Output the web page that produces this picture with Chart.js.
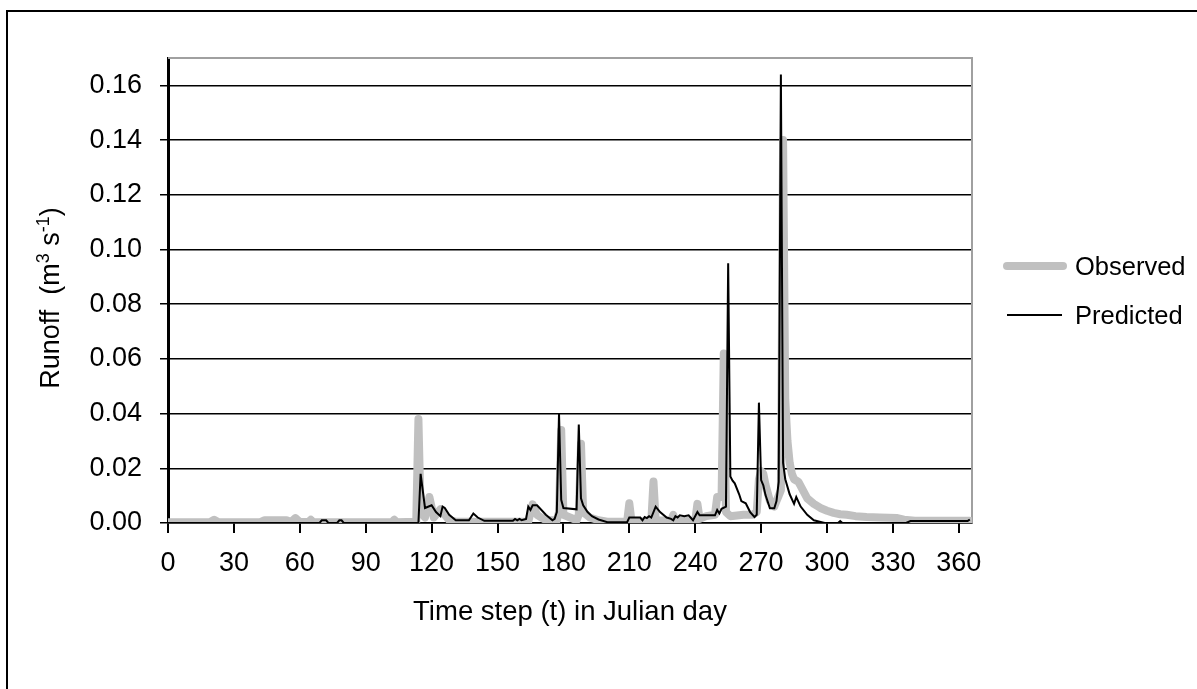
<!DOCTYPE html>
<html>
<head>
<meta charset="utf-8">
<script src="https://cdn.jsdelivr.net/npm/chart.js@4.4.1/dist/chart.umd.min.js"></script>
<style>
  html, body { margin: 0; padding: 0; background: #fff; }
  #wrap { width: 1197px; height: 689px; position: relative; }
</style>
</head>
<body>
<div id="wrap"><canvas id="myChart" width="1197" height="689"></canvas></div>
<script>
// daily runoff (m3/s) at the days where the curves change
const obsDays = [0, 19, 21, 23, 42, 44, 54, 56, 58, 60, 64, 65, 66, 102, 103, 104, 113, 114, 115, 117, 119, 121, 124, 126, 128, 131,
  164, 166, 168, 170, 172, 177, 178, 179, 180, 186, 187, 188, 189, 192, 196, 200, 209, 210, 211, 220, 221, 222, 229, 230, 231,
  240, 241, 242, 245, 249, 250, 252, 253, 254, 256, 262, 266, 268, 269, 270, 271, 272, 274, 276, 277, 278, 279, 280, 281, 282,
  283, 284, 285, 287, 289, 291, 294, 297, 300, 303, 306, 309, 313, 318, 324, 332, 335, 340, 365];
const obsRunoff = [0.0003, 0.0003, 0.0012, 0.0003, 0.0003, 0.001, 0.001, 0.0004, 0.0018, 0.0004, 0.0004, 0.0012, 0.0003, 0.0003, 0.0012, 0.0003, 0.0005, 0.038, 0.004, 0.002, 0.0095, 0.002, 0.005, 0.003, 0.001, 0.0005,
  0.0005, 0.0068, 0.003, 0.002, 0.001, 0.001, 0.004, 0.034, 0.003, 0.001, 0.003, 0.029, 0.004, 0.002, 0.001, 0.0005, 0.0005, 0.0072, 0.0006, 0.0006, 0.0152, 0.001, 0.0008, 0.003, 0.0008,
  0.0008, 0.007, 0.0015, 0.0025, 0.003, 0.0095, 0.0095, 0.062, 0.004, 0.0025, 0.003, 0.003, 0.004, 0.016, 0.019, 0.018, 0.014, 0.008, 0.006, 0.008, 0.01, 0.012, 0.14, 0.045, 0.03,
  0.022, 0.018, 0.016, 0.015, 0.012, 0.009, 0.007, 0.0055, 0.0045, 0.0037, 0.0032, 0.003, 0.0025, 0.0022, 0.002, 0.0018, 0.0012, 0.0008, 0.0008];

const predDays = [0, 69, 70, 72, 73, 77, 78, 79, 80, 114, 115, 117, 120, 122, 124, 125, 126, 128, 131, 137, 139, 141, 144, 157, 158, 159, 160, 161, 163,
  164, 165, 166, 168, 172, 175, 176, 177, 178, 179, 180, 186, 187, 188, 189, 191, 193, 196, 200, 209, 210, 215, 216, 217, 218, 219, 220, 222, 224, 227,
  229, 230, 231, 232, 233, 235, 237, 239, 241, 242, 249, 250, 251, 252, 254, 255, 256, 257, 258, 260, 261, 263, 265, 267, 268, 269, 270, 271, 272,
  274, 276, 277, 278, 279, 280, 281, 283, 285, 286, 288, 291, 294, 298, 299, 305, 306, 307, 336, 338, 364, 365];
const predRunoff = [0, 0, 0.001, 0.001, 0, 0, 0.001, 0.001, 0, 0, 0.018, 0.0055, 0.0065, 0.004, 0.0025, 0.006, 0.0055, 0.003, 0.001, 0.001, 0.0035, 0.002, 0.0008, 0.0008, 0.0015, 0.001, 0.0015, 0.001, 0.0015,
  0.006, 0.0048, 0.0065, 0.0065, 0.003, 0.001, 0.0015, 0.004, 0.040, 0.0085, 0.0055, 0.005, 0.036, 0.009, 0.0065, 0.004, 0.0025, 0.0013, 0.0003, 0.0003, 0.002, 0.002, 0.001, 0.0022, 0.0018, 0.0025, 0.002, 0.006, 0.004, 0.002,
  0.0015, 0.001, 0.0025, 0.002, 0.0028, 0.0025, 0.0028, 0.001, 0.004, 0.0028, 0.0028, 0.0048, 0.0035, 0.0052, 0.006, 0.095, 0.017, 0.0155, 0.0145, 0.0105, 0.008, 0.0072, 0.004, 0.0022, 0.003, 0.044, 0.0157, 0.0138, 0.0102,
  0.0054, 0.0054, 0.008, 0.015, 0.164, 0.022, 0.016, 0.0105, 0.007, 0.0095, 0.006, 0.003, 0.001, 0.0002, 0, 0, 0.0007, 0, 0, 0.0007, 0.0007, 0.0013];

const xTicks = [0, 30, 60, 90, 120, 150, 180, 210, 240, 270, 300, 330, 360];
const yTicks = [0, 0.02, 0.04, 0.06, 0.08, 0.10, 0.12, 0.14, 0.16];

const FONT = '"Liberation Sans", Arial, sans-serif';

/**
 * white page, the frame round the figure and the grey top/right edge of the plot area
 */
const framePlugin = {
  id: 'frame',
  beforeDraw (chart) {
    const ctx = chart.ctx;
    ctx.save();
    ctx.fillStyle = '#fff';
    ctx.fillRect(0, 0, chart.width, chart.height);
    ctx.strokeStyle = '#000';
    ctx.lineWidth = 2;
    ctx.beginPath();
    ctx.moveTo(7, chart.height);
    ctx.lineTo(7, 11);
    ctx.lineTo(chart.width, 11);
    ctx.stroke();
    ctx.restore();
  },
  beforeDatasetsDraw (chart) {
    const a = chart.chartArea;
    const ctx = chart.ctx;
    ctx.save();
    ctx.strokeStyle = '#a0a0a0';
    ctx.lineWidth = 2;
    ctx.beginPath();
    ctx.moveTo(a.left, a.top);
    ctx.lineTo(a.right, a.top);
    ctx.lineTo(a.right, a.bottom);
    ctx.stroke();
    ctx.restore();
  }
};

/**
 * y axis title with real superscripts, and the legend on the right
 */
const textPlugin = {
  id: 'texts',
  afterDraw (chart) {
    const ctx = chart.ctx;
    ctx.save();
    // y title
    const parts = [['Runoff  (m', false], ['3', true], [' s', false], ['-1', true], [')', false]];
    const big = '27px ' + FONT;
    const small = '18px ' + FONT;
    let total = 0;
    parts.forEach(p => { ctx.font = p[1] ? small : big; total += ctx.measureText(p[0]).width; });
    ctx.translate(50, 298);
    ctx.rotate(-Math.PI / 2);
    ctx.fillStyle = '#000';
    ctx.textBaseline = 'alphabetic';
    let x = -total / 2;
    parts.forEach(p => {
      ctx.font = p[1] ? small : big;
      ctx.fillText(p[0], x, p[1] ? -1 : 9);
      x += ctx.measureText(p[0]).width;
    });
    ctx.restore();

    // legend
    ctx.save();
    const rows = [{ y: 266, x1: 1007, x2: 1063 }, { y: 315, x1: 1007, x2: 1062 }];
    chart.data.datasets.forEach((ds, i) => {
      const r = rows[i];
      ctx.strokeStyle = ds.borderColor;
      ctx.lineWidth = ds.borderWidth;
      ctx.lineCap = ds.borderCapStyle || 'butt';
      ctx.beginPath();
      ctx.moveTo(r.x1, r.y);
      ctx.lineTo(r.x2, r.y);
      ctx.stroke();
      ctx.fillStyle = '#000';
      ctx.font = '25.5px ' + FONT;
      ctx.textBaseline = 'middle';
      ctx.textAlign = 'left';
      ctx.fillText(ds.label, 1075, r.y + 2);
    });
    ctx.restore();
  }
};

const data = {
  datasets: [{
    label: 'Observed',
    data: obsDays.map((d, i) => ({ x: d, y: obsRunoff[i] })),
    borderColor: '#c0c0c0',
    borderWidth: 8,
    borderCapStyle: 'round',
    borderJoinStyle: 'round',
    pointRadius: 0,
    tension: 0,
    order: 2
  }, {
    label: 'Predicted',
    data: predDays.map((d, i) => ({ x: d, y: predRunoff[i] })),
    borderColor: '#000000',
    borderWidth: 2,
    pointRadius: 0,
    tension: 0,
    order: 1
  }]
};

const config = {
  type: 'line',
  data,
  plugins: [framePlugin, textPlugin],
  options: {
    responsive: false,
    animation: false,
    layout: { padding: { left: 0, top: 58, right: 225, bottom: 0 } },
    plugins: {
      legend: { display: false },
      tooltip: { enabled: false }
    },
    scales: {
      x: {
        type: 'linear',
        min: 0,
        max: 366,
        afterBuildTicks: (scale) => { scale.ticks = xTicks.map(v => ({ value: v })); },
        afterFit: (scale) => { scale.height = 166; },
        grid: { display: true, drawOnChartArea: false, drawTicks: true, tickLength: 10, tickColor: '#000', lineWidth: 2 },
        border: { display: true, color: '#000', width: 1.5 },
        ticks: { color: '#000', font: { family: FONT, size: 27 }, padding: 14, maxRotation: 0, autoSkip: false },
        title: { display: true, text: 'Time step (t) in Julian day', color: '#000', font: { family: FONT, size: 27.5 }, padding: { top: 0, bottom: 60 } }
      },
      y: {
        min: 0,
        max: 0.17,
        afterBuildTicks: (scale) => { scale.ticks = yTicks.map(v => ({ value: v })); },
        afterFit: (scale) => { scale.width = 168; },
        grid: { color: '#000', lineWidth: 1.5, tickLength: 8, tickColor: '#000' },
        border: { display: true, color: '#000', width: 3 },
        ticks: { color: '#000', font: { family: FONT, size: 27 }, padding: 18, callback: (v) => Number(v).toFixed(2) }
      }
    }
  }
};

const myChart = new Chart(document.getElementById('myChart'), config);
</script>
</body>
</html>
